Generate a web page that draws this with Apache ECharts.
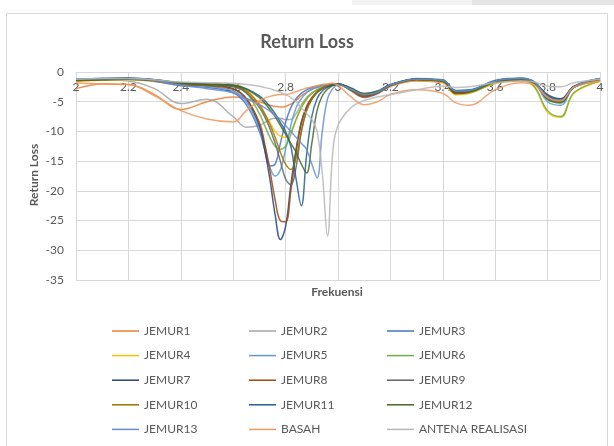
<!DOCTYPE html>
<html><head><meta charset="utf-8">
<script src="https://cdn.jsdelivr.net/npm/echarts@6/dist/echarts.min.js"></script>
<style>html,body{margin:0;padding:0;background:#fff}#c{width:614px;height:446px}</style>
</head><body><div id="c"></div>
<script>
// Frequency sample points (GHz)
const freq = [2.0, 2.1, 2.2, 2.3, 2.4, 2.5, 2.6, 2.65, 2.7, 2.72, 2.74, 2.76, 2.78, 2.8, 2.82, 2.84, 2.86, 2.88, 2.9, 2.92, 2.94, 2.96, 2.98, 3.0, 3.05, 3.1, 3.15, 3.2, 3.3, 3.4, 3.45, 3.5, 3.6, 3.7, 3.75, 3.8, 3.85, 3.9, 4.0];

const seriesNames = ["JEMUR1","JEMUR2","JEMUR3","JEMUR4","JEMUR5","JEMUR6","JEMUR7","JEMUR8","JEMUR9","JEMUR10","JEMUR11","JEMUR12","JEMUR13","BASAH","ANTENA REALISASI"];

const jemur1 = [-2.8,-2,-2.1,-3.8,-6.3,-5,-4.2,-4.5,-5,-5.3,-5.6,-5.8,-5.9,-5.8,-5.4,-4.8,-4,-3.4,-2.9,-2.6,-2.4,-2.3,-2.2,-2.1,-3,-4,-3.5,-2.4,-1.5,-1.8,-3.8,-3.6,-1.9,-1.5,-2,-4.2,-4.8,-2.6,-1.5];
const jemur2 = [-1.3,-1.3,-1.5,-2.8,-5.3,-4.6,-7.5,-9.3,-9,-8.5,-8,-7.8,-7.8,-8,-8,-7,-5.5,-4.3,-3.5,-3,-2.6,-2.3,-2.1,-2,-3.2,-4.3,-3.7,-2.4,-1.3,-1.5,-3.4,-3.3,-1.6,-1.2,-1.8,-4.4,-5,-2.5,-1.2];
const jemur3 = [-1.3,-1.2,-1.2,-1.6,-2.3,-2.6,-3.5,-5.5,-10,-13,-15.8,-15.5,-12,-8.5,-6,-4.5,-3.6,-3,-2.6,-2.4,-2.2,-2.1,-2,-2,-3,-4,-3.5,-2.2,-1.2,-1.4,-3.3,-3.2,-1.5,-1.1,-1.8,-4.3,-5,-2.5,-1.2];
const jemur4 = [-1.6,-1.4,-1.3,-1.5,-1.9,-2,-2.1,-3,-5.5,-7,-8.5,-10,-10.8,-11,-10,-8,-6,-4.6,-3.6,-3,-2.6,-2.3,-2.1,-2,-2.9,-3.6,-3.3,-2.3,-1.4,-1.7,-3.8,-3.6,-1.9,-1.4,-2.6,-6.8,-7.6,-3.6,-1.6];
const jemur5 = [-1.2,-1.1,-1.1,-1.4,-2,-2.4,-3.2,-5,-9.5,-12.5,-16,-17.5,-16.5,-13,-9,-6,-4.5,-3.5,-2.9,-2.6,-2.3,-2.2,-2.1,-2,-3.1,-4.2,-3.6,-2.3,-1.1,-1.3,-3.4,-3.3,-1.4,-1,-1.8,-5,-5.6,-2.6,-1.2];
const jemur6 = [-1.4,-1.3,-1.2,-1.4,-1.8,-2,-2.3,-3.5,-7,-9,-11,-12.5,-13,-12.5,-10.5,-8,-6,-4.5,-3.6,-3,-2.6,-2.3,-2.1,-2,-2.9,-3.8,-3.4,-2.2,-1.3,-1.6,-3.6,-3.5,-1.8,-1.3,-2.5,-6.5,-7.5,-3.5,-1.5];
const jemur7 = [-1.2,-1.1,-1,-1.3,-2,-2.2,-2.8,-4.5,-9,-13,-18,-24,-28.2,-26,-19,-13,-8.5,-6,-4.5,-3.5,-2.8,-2.4,-2.2,-2,-3,-4,-3.5,-2.2,-1.2,-1.5,-3.5,-3.3,-1.6,-1.2,-1.8,-3.8,-4.5,-2.5,-1.2];
const jemur8 = [-1.4,-1.2,-1.1,-1.4,-2.1,-2.3,-2.9,-4.5,-8.5,-12,-16.5,-21.5,-25,-25.2,-20,-13.5,-8.5,-5.8,-4.3,-3.4,-2.8,-2.4,-2.2,-2.1,-3.1,-4.2,-3.6,-2.3,-1.3,-1.6,-3.6,-3.4,-1.7,-1.3,-1.9,-4,-4.8,-2.6,-1.3];
const jemur9 = [-1.3,-1.2,-1.1,-1.3,-1.9,-2.1,-2.5,-3.5,-6,-7.5,-9.5,-12,-15,-18,-19,-16,-10,-6.5,-4.5,-3.3,-2.7,-2.3,-2.1,-2,-2.8,-3.8,-3.4,-2.2,-1.2,-1.4,-3.2,-3.1,-1.5,-1.1,-1.7,-4.2,-4.8,-2.5,-1.1];
const jemur10 = [-1.5,-1.3,-1.2,-1.5,-2,-2.2,-2.4,-3.2,-5.5,-7,-8.8,-11,-13.5,-15.5,-16.4,-14.5,-10,-6.5,-4.6,-3.4,-2.7,-2.3,-2.1,-2,-2.9,-3.9,-3.4,-2.2,-1.3,-1.5,-3.3,-3.2,-1.6,-1.2,-1.8,-4.5,-5,-2.6,-1.3];
const jemur11 = [-1.3,-1.2,-1.1,-1.3,-1.8,-2,-2.2,-2.8,-4,-4.8,-5.8,-7,-8.5,-10,-12.5,-18,-22.5,-14,-7.5,-4.5,-3.2,-2.6,-2.2,-2,-2.7,-3.6,-3.2,-2.1,-1.2,-1.4,-3.1,-3,-1.5,-1.1,-1.7,-4,-4.6,-2.4,-1.1];
const jemur12 = [-1.4,-1.3,-1.2,-1.4,-1.9,-2.1,-2.3,-2.9,-4.3,-5.2,-6.3,-7.5,-9,-10.5,-12,-13.5,-15.5,-17,-12,-6.5,-4,-2.9,-2.3,-2,-2.8,-3.7,-3.3,-2.2,-1.2,-1.5,-3.4,-3.3,-1.6,-1.2,-1.8,-4.6,-5.2,-2.6,-1.2];
const jemur13 = [-1.2,-1.1,-1.1,-1.4,-2.2,-2.8,-3.5,-4.5,-5.5,-6,-6.6,-7.3,-8,-9,-10,-11,-12,-13,-15.5,-17.8,-10,-4.5,-2.8,-2.2,-2.9,-3.8,-3.4,-2.2,-1.2,-1.4,-3.2,-3.1,-1.5,-1.1,-1.7,-4.2,-4.8,-2.5,-1.1];
const basah = [-1.8,-2,-2.1,-4,-6.5,-7.9,-8.4,-6.5,-4.8,-4.4,-4.1,-3.9,-3.8,-3.8,-3.6,-3.3,-3,-2.7,-2.5,-2.3,-2.1,-2,-1.9,-2.2,-4.2,-5.5,-5,-3.8,-3,-3.6,-5.2,-5.6,-3,-1.8,-2.2,-4.3,-4.8,-2.6,-1.5];
const antena = [-1.2,-1.1,-1.1,-1.3,-1.7,-1.8,-1.9,-2.1,-2.4,-2.6,-2.8,-3.1,-3.4,-3.8,-4.3,-5,-6,-7,-8,-10,-17,-27.6,-13.5,-9,-6,-4.8,-4.2,-3.8,-3,-2.4,-2.6,-2.5,-1.8,-1.5,-1.7,-2.4,-2.5,-1.8,-1.2];

const seriesValues = [jemur1,jemur2,jemur3,jemur4,jemur5,jemur6,jemur7,jemur8,jemur9,jemur10,jemur11,jemur12,jemur13,basah,antena];
const colors = ["#ED7D31","#A5A5A5","#4472C4","#FFC000","#5B9BD5","#70AD47","#264478","#9E480E","#636363","#997300","#255E91","#43682B","#698ED0","#F1975A","#B7B7B7"];
const xTicks = {min: 2, max: 4, interval: 0.2};
const yTicks = {min: -35, max: 0, interval: 5};

const FONT = 'Lato';
const chart = echarts.init(document.getElementById('c'), null, {renderer: 'canvas'});

function legendCol(names, left) {
  return {
    orient: 'vertical', left: left, top: 324, padding: 0,
    icon: 'rect', itemWidth: 27, itemHeight: 1.5, itemGap: 10.6,
    textStyle: {fontFamily: FONT, fontSize: 12, color: '#595959', lineHeight: 14},
    data: names
  };
}

const option = {
  animation: false,
  backgroundColor: '#fff',
  color: colors,
  title: {
    text: 'Return Loss', left: 'center', top: 28,
    textStyle: {fontFamily: FONT, fontSize: 18, fontWeight: 'bold', color: '#595959'}
  },
  grid: {left: 76, right: 14, top: 72, bottom: 166, containLabel: false},
  legend: [
    legendCol([seriesNames[0], seriesNames[3], seriesNames[6], seriesNames[9], seriesNames[12]], 112),
    legendCol([seriesNames[1], seriesNames[4], seriesNames[7], seriesNames[10], seriesNames[13]], 249),
    legendCol([seriesNames[2], seriesNames[5], seriesNames[8], seriesNames[11], seriesNames[14]], 387)
  ],
  xAxis: {
    type: 'value', position: 'top', min: xTicks.min, max: xTicks.max, interval: xTicks.interval,
    axisLine: {show: true, onZero: false, lineStyle: {color: '#d9d9d9'}},
    axisTick: {show: false},
    axisLabel: {inside: true, fontFamily: FONT, fontSize: 12, color: '#595959', margin: 9},
    splitLine: {show: true, lineStyle: {color: '#d9d9d9'}}
  },
  yAxis: {
    type: 'value', min: yTicks.min, max: yTicks.max, interval: yTicks.interval,
    axisLine: {show: false}, axisTick: {show: false},
    axisLabel: {fontFamily: FONT, fontSize: 12, color: '#595959', margin: 12},
    splitLine: {show: true, lineStyle: {color: '#d9d9d9'}}
  },
  series: seriesNames.map((n, i) => ({
    name: n, type: 'line', smooth: 0.4, symbol: 'none',
    lineStyle: {width: 1.5, color: colors[i], opacity: 0.85},
    itemStyle: {color: colors[i]},
    data: freq.map((f, k) => [f, seriesValues[i][k]])
  })),
  graphic: [
    {type: 'rect', shape: {x: 352, y: 0, width: 120, height: 5}, style: {fill: '#f2f2f2'}, silent: true},
    {type: 'rect', shape: {x: 472, y: 0, width: 142, height: 5}, style: {fill: '#e4e4e4'}, silent: true},
    {type: 'rect', shape: {x: 6.5, y: 13.5, width: 601, height: 440}, style: {fill: 'none', stroke: '#d9d9d9', lineWidth: 1}, silent: true, z: -1},
    {type: 'text', x: 337, y: 292, style: {text: 'Frekuensi', font: 'bold 12px Lato', fill: '#595959', align: 'center', verticalAlign: 'middle'}},
    {type: 'text', x: 34, y: 175, rotation: Math.PI / 2, style: {text: 'Return Loss', font: 'bold 12px Lato', fill: '#595959', align: 'center', verticalAlign: 'middle'}}
  ]
};
chart.setOption(option);
</script>
</body></html>
